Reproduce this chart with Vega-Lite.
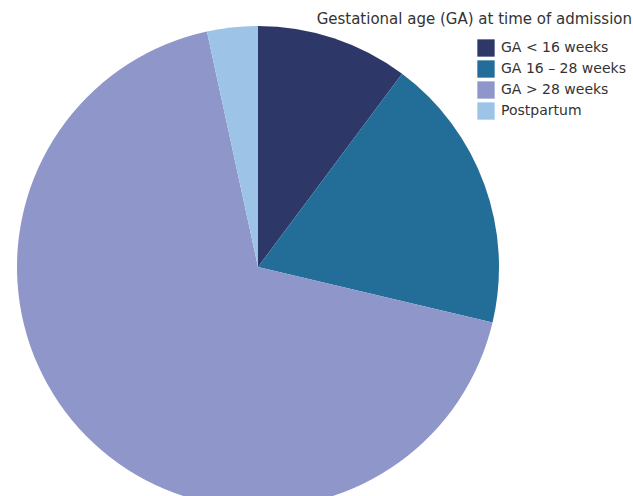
{
  "$schema": "https://vega.github.io/schema/vega-lite/v6.json",
  "width": 516,
  "height": 534,
  "autosize": "none",
  "padding": {"left": 0, "top": 0, "right": 117, "bottom": 0},
  "background": "white",
  "title": {
    "text": "Gestational age (GA) at time of admission",
    "anchor": "end",
    "frame": "group",
    "orient": "top",
    "dx": 116,
    "dy": 31,
    "font": "DejaVu Sans",
    "fontSize": 15,
    "fontWeight": "normal",
    "color": "#333333"
  },
  "data": {
    "values": [
      {"group": "GA < 16 weeks", "pct": 10.2, "ord": 1},
      {"group": "GA 16 – 28 weeks", "pct": 18.5, "ord": 2},
      {"group": "GA > 28 weeks", "pct": 67.9, "ord": 3},
      {"group": "Postpartum", "pct": 3.4, "ord": 4}
    ]
  },
  "mark": {"type": "arc", "outerRadius": 241, "stroke": null},
  "encoding": {
    "theta": {"field": "pct", "type": "quantitative", "stack": true},
    "order": {"field": "ord", "type": "quantitative"},
    "color": {
      "field": "group",
      "type": "nominal",
      "scale": {
        "domain": ["GA < 16 weeks", "GA 16 – 28 weeks", "GA > 28 weeks", "Postpartum"],
        "range": ["#2e3868", "#236d99", "#8f96c9", "#9dc4e7"]
      },
      "legend": {
        "title": null,
        "orient": "none",
        "legendX": 477,
        "legendY": 39,
        "symbolType": "square",
        "symbolSize": 300,
        "symbolStrokeWidth": 0,
        "symbolOpacity": 1,
        "rowPadding": 3,
        "labelOffset": 6,
        "labelFont": "DejaVu Sans",
        "labelFontSize": 14,
        "labelColor": "#333333",
        "labelLimit": 200,
        "padding": 0
      }
    }
  }
}
